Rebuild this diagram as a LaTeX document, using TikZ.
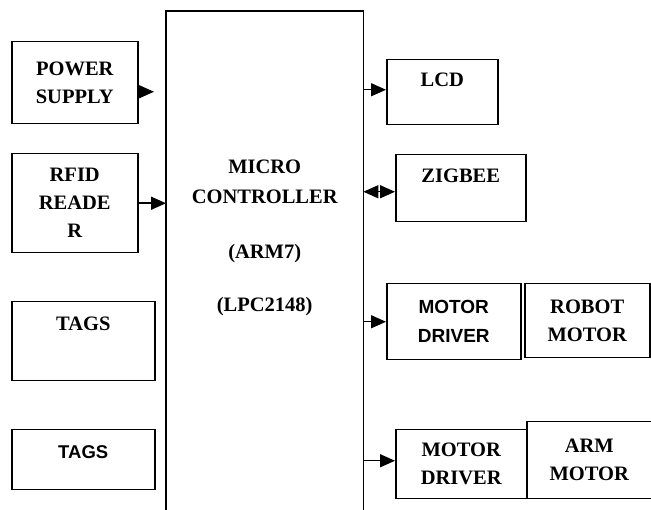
\documentclass[tikz,border=0pt]{standalone}
\usepackage{fontspec}
\setmainfont{Liberation Serif}
\setsansfont{Liberation Sans}
\usetikzlibrary{arrows.meta,positioning}

\tikzset{
  blk/.style={draw, line width=1.5pt, anchor=north west, inner sep=0pt, align=center,
    font=\fontsize{20.5}{28}\selectfont\bfseries},
  sfblk/.style={blk, font=\fontsize{19}{29}\selectfont\sffamily\bfseries},
  lbl/.style={inner sep=0pt, align=center, font=\fontsize{20.5}{28}\selectfont\bfseries},
  sflbl/.style={lbl, font=\fontsize{18.5}{28}\selectfont\sffamily\bfseries},
  arr/.style={line width=1.5pt, -{Triangle[length=15pt,width=13pt]}},
  darr/.style={line width=1.5pt, {Triangle[length=15pt,width=13pt]}-{Triangle[length=15pt,width=13pt]}},
}

\begin{document}
\begin{tikzpicture}[x=1pt,y=-1pt]
        \useasboundingbox (0,0) rectangle (651,510);
        % left column
        \node[blk, minimum width=126, minimum height=82] (ps) at (11,41) {POWER\\SUPPLY};
        \node[blk, minimum width=126, minimum height=99] (rfid) at (11,153) {RFID\\READE\\R};
        \node[blk, minimum width=143, minimum height=79] (tags1) at (11,301) {};
        \node[blk, minimum width=143, minimum height=60] (tags2) at (11,429) {};
        \node[lbl, below=16pt of tags1.north] (tags1txt) {TAGS};
        \node[sflbl, below=16pt of tags2.north] (tags2txt) {TAGS};
        % controller, open at the bottom
        \node[anchor=north west, inner sep=0pt, minimum width=197, minimum height=499] (mc) at (166,11) {};
        \draw[line width=1.5pt] (mc.south west) -- (mc.north west) -- (mc.north east) -- (mc.south east);
        \node[lbl, font=\fontsize{20.5}{30}\selectfont\bfseries, below=149pt of mc.north] (mctxt)
            {MICRO\\CONTROLLER\\[25pt](ARM7)\\[23pt](LPC2148)};
        % right column
        \node[blk, minimum width=111, minimum height=65] (lcd) at (386,59) {};
        \node[blk, minimum width=130, minimum height=67] (zig) at (395,154) {};
        \node[lbl, below=14pt of lcd.north] (lcdtxt) {LCD};
        \node[lbl, below=15pt of zig.north] (zigtxt) {ZIGBEE};
        \node[sfblk, minimum width=134, minimum height=76] (md1) at (386,283) {MOTOR\\DRIVER};
        \node[blk, minimum width=125, minimum height=74] (robot) at (524,283) {ROBOT\\MOTOR};
        \node[blk, minimum width=131, minimum height=69] (md2) at (395,429) {MOTOR\\DRIVER};
        \node[blk, minimum width=125, minimum height=77] (arm) at (526,421) {ARM\\MOTOR};
        % connectors
        \coordinate (psout) at ([yshift=-9pt]ps.east);
        \coordinate (lcdin) at ([yshift=2.5pt]lcd.west);
        \coordinate (zigin) at ([yshift=-3.5pt]zig.west);
        \coordinate (md2in) at ([yshift=3.5pt]md2.west);
        \draw[arr, shorten >=12pt] (psout) -- (psout -| mc.west);
        \draw[arr] (rfid.east) -- (rfid.east -| mc.west);
        \draw[arr] (mc.east |- lcdin) -- (lcdin);
        \draw[darr] (mc.east |- zigin) -- (zigin);
        \draw[arr] (mc.east |- md1.west) -- (md1.west);
        \draw[arr] (mc.east |- md2in) -- (md2in);
    \end{tikzpicture}
\end{document}
